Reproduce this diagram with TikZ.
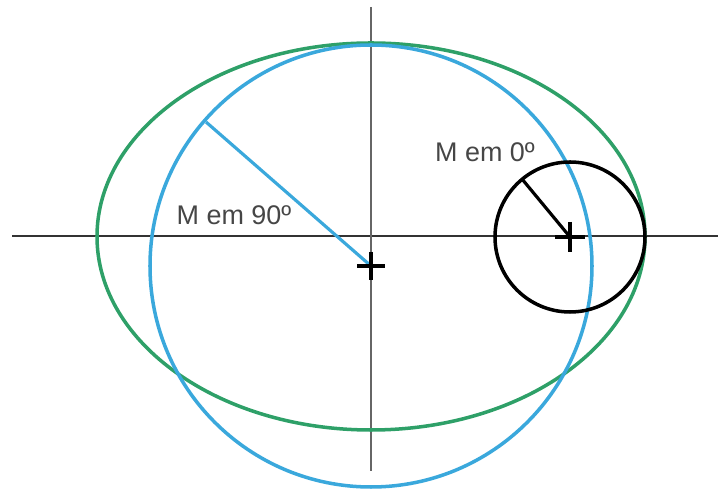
\documentclass[tikz,border=0pt]{standalone}
\usepackage{xcolor}
\usepackage{fontspec}
\setmainfont{Liberation Sans}
\usepackage{tikz}
\usetikzlibrary{positioning, calc}

\definecolor{orbgreen}{RGB}{46,160,104}
\definecolor{orbblue}{RGB}{58,168,220}
\definecolor{labelgray}{RGB}{70,70,70}

\begin{document}
\begin{tikzpicture}[
  x=0.03cm, y=-0.03cm,
  axis/.style={draw=black!80, line width=1.3pt},
  orbit/.style={line width=3pt},
  cross/.style={draw=black, line width=3pt},
  lbl/.style={text=labelgray, font=\fontsize{23}{26}\selectfont, inner sep=0pt}
]
\useasboundingbox (0,0) rectangle (718,489);

% centers
\coordinate (o) at (371,266);
\coordinate (m) at (570,237);
\coordinate (pb) at (206,122);
\coordinate (pk) at (522,179);

% axes
\draw [axis] (12,236) -- (718,236);
\draw [axis, draw=black!60] (371,7) -- (371,471);

% curves
\draw [orbit, orbgreen] (371,236.5) ellipse [x radius=274, y radius=193.5];
\draw [orbit, orbblue] (o) circle [radius=221];
\draw [orbit, black] (m) circle [radius=75];

% radii
\draw [orbit, orbblue, line width=2.7pt] (pb) -- (o);
\draw [orbit, black, line width=2.7pt] (pk) -- (m);

% crosses
\draw [cross] ($(o)+(-14,0)$) -- ($(o)+(14,0)$) ($(o)+(0,-14)$) -- ($(o)+(0,14)$);
\draw [cross] ($(m)+(-15,0)$) -- ($(m)+(15,0)$) ($(m)+(0,-15)$) -- ($(m)+(0,15)$);

% labels
\node (l90) [lbl] at (234,215) {M em 90º};
\node (l0) [lbl] at (485,152) {M em 0º};
\end{tikzpicture}
\end{document}
